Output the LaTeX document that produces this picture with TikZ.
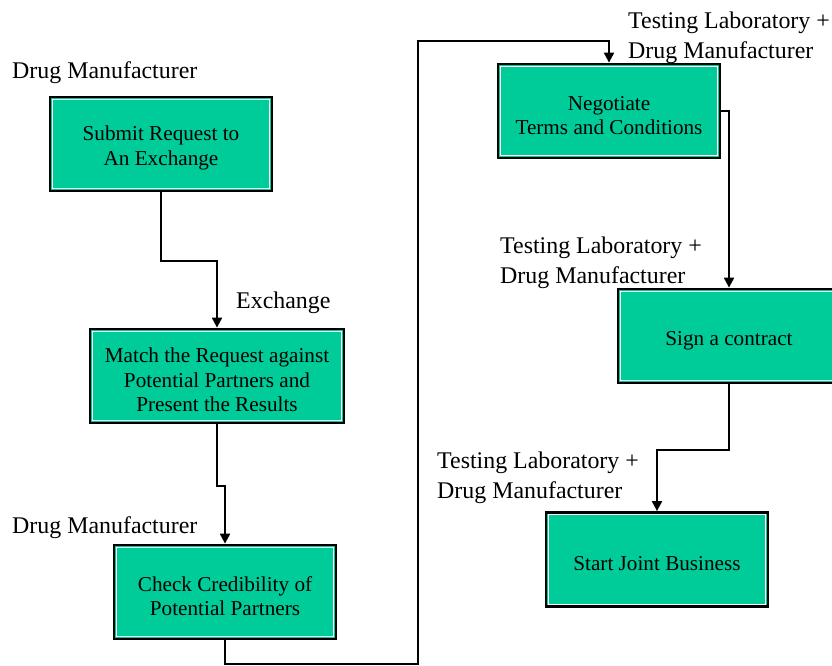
\documentclass[tikz,border=0pt]{standalone}
\usepackage{fontspec}
\setmainfont{Liberation Serif}
\usetikzlibrary{arrows.meta}
\definecolor{boxgreen}{RGB}{0,204,153}
% extra height on the first line pushes box text slightly below centre
\newcommand{\leadstrut}{\rule{0pt}{23pt}}
\begin{document}
\begin{tikzpicture}[x=1pt,y=-1pt,
  stepbox/.style={draw=black, line width=2.8pt, fill=boxgreen,
    minimum width=222pt, minimum height=94pt, inner sep=0pt, align=center,
    font=\fontsize{21.2}{24.5}\selectfont,
    path picture={\draw[white,line width=1pt]
      ([shift={(2.4pt,-2.4pt)}]path picture bounding box.north west) rectangle
      ([shift={(-2.4pt,2.4pt)}]path picture bounding box.south east);}},
  role/.style={anchor=north west, inner sep=0pt, align=left,
    font=\fontsize{23.9}{30}\selectfont},
  flow/.style={draw=black, line width=2pt, -{Triangle[length=10pt,width=10pt]}}
]
\useasboundingbox (0,0) rectangle (832,665);

% process steps
\node[stepbox] (b1) at (161,144) {\leadstrut Submit Request to\\An Exchange};
\node[stepbox, minimum width=254pt] (b2) at (217,376) {\leadstrut Match the Request against\\Potential Partners and\\Present the Results};
\node[stepbox] (b3) at (225,592) {\leadstrut Check Credibility of\\Potential Partners};
\node[stepbox] (b4) at (609,111) {\leadstrut Negotiate\\Terms and Conditions};
\node[stepbox] (b5) at (729,336) {\leadstrut Sign a contract};
\node[stepbox] (b6) at (657,559.5) {\leadstrut Start Joint Business};

% actors responsible for each step
\node[role] (r1) at (12,61) {Drug Manufacturer};
\node[role] (r2) at (236,292) {Exchange};
\node[role] (r3) at (12,516) {Drug Manufacturer};
\node[role] (r4) at (628,12) {Testing Laboratory +\\Drug Manufacturer};
\node[role] (r5) at (500,237) {Testing Laboratory +\\Drug Manufacturer};
\node[role] (r6) at (437,452) {Testing Laboratory +\\Drug Manufacturer};

% flow between steps
\coordinate (lowturn) at (418,664);
\coordinate (topturn) at (418,41);
\draw[flow] (b1.south) -- ++(0,69) -| (b2.north);
\draw[flow] (b2.south) -- ++(0,62) -| (b3.north);
\draw[flow] (b3.south) |- (lowturn) -- (topturn) -| (b4.north);
\draw[flow] (b4.east) -| (b5.north);
\draw[flow] (b5.south) -- ++(0,66) -| (b6.north);
\end{tikzpicture}
\end{document}
